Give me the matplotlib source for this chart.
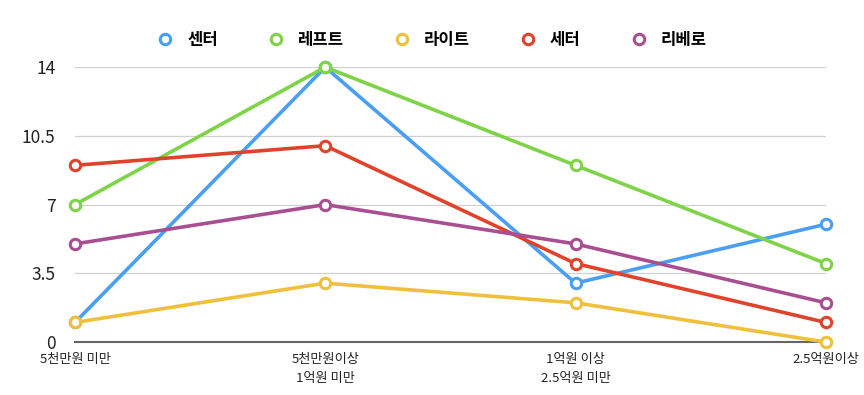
import matplotlib
matplotlib.use('Agg')
import matplotlib.pyplot as plt

plt.rcParams['font.family'] = ['Noto Sans CJK KR', 'DejaVu Sans']

categories = ['5천만원 미만', '5천만원이상\n1억원 미만', '1억원 이상\n2.5억원 미만', '2.5억원이상']
series_names = ['센터', '레프트', '라이트', '세터', '리베로']
center = [1, 14, 3, 6]
left = [7, 14, 9, 4]
right = [1, 3, 2, 0]
setter = [9, 10, 4, 1]
libero = [5, 7, 5, 2]
colors = ['#4a9ff5', '#7ed348', '#f0bf3c', '#e0432b', '#a94f91']
yticks = [0, 3.5, 7, 10.5, 14]

fig = plt.figure(figsize=(8.64, 3.95), dpi=100)
ax = fig.add_axes([0.0868, 0.134, 0.869, 0.696])

x = list(range(len(categories)))
for name, vals, c in zip(series_names, [center, left, right, setter, libero], colors):
    ax.plot(x, vals, color=c, linewidth=2.6, marker='o', markersize=7.5,
            markerfacecolor='white', markeredgecolor=c, markeredgewidth=2.2,
            label=name, clip_on=False, zorder=3)

ax.set_xlim(0, 3)
ax.set_ylim(0, 14)
ax.set_yticks(yticks)
ax.set_yticklabels(['0', '3.5', '7', '10.5', '14'], fontsize=12.5, color='#222222')
ax.set_xticks(x)
ax.set_xticklabels(categories, fontsize=9.5, color='#222222', linespacing=1.6)
ax.tick_params(axis='x', length=0, pad=8)
ax.tick_params(axis='y', length=0, pad=14)
ax.grid(axis='y', color='#d0d0d0', linewidth=0.9)
ax.set_axisbelow(True)
for s in ['top', 'right', 'left']:
    ax.spines[s].set_visible(False)
ax.spines['bottom'].set_color('#666666')
ax.spines['bottom'].set_linewidth(1.5)

leg = fig.legend(loc='center', bbox_to_anchor=(0.5, 0.9), ncol=5, frameon=False,
                 fontsize=12, handlelength=1.0, columnspacing=3.0, handletextpad=0.8)
for t in leg.get_texts():
    t.set_fontweight('bold')
for h in leg.legend_handles:
    h.set_linestyle('none')

fig.savefig('out.png', dpi=100)
